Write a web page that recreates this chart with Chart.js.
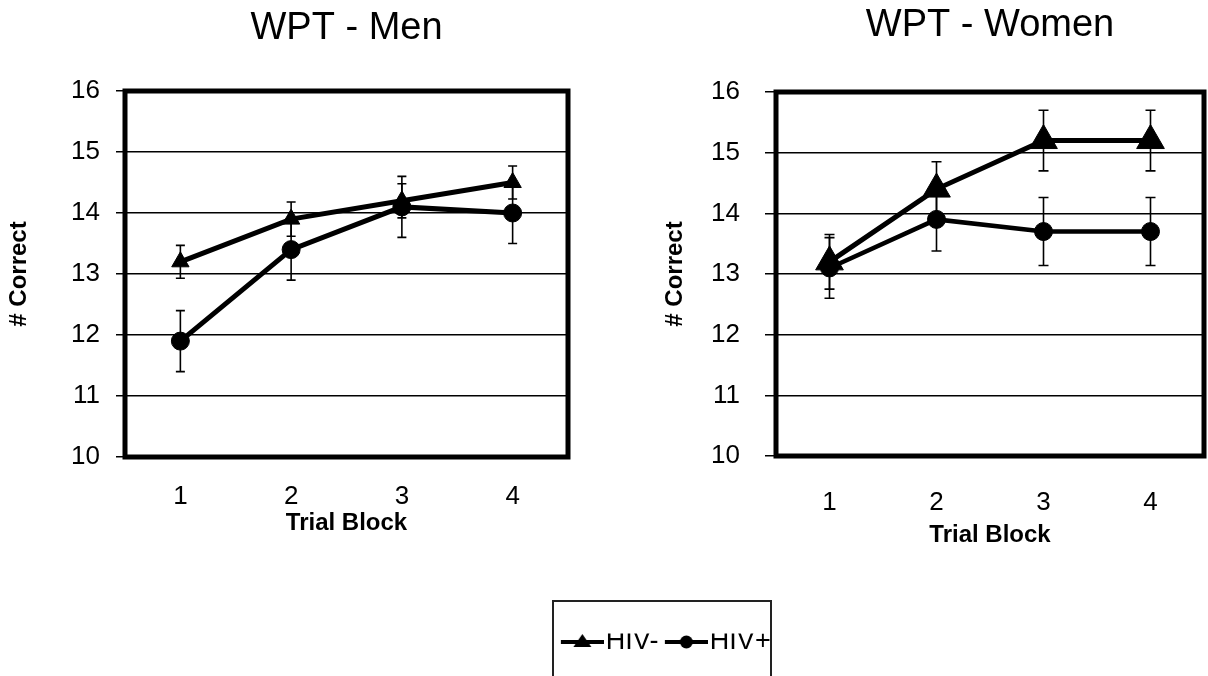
<!DOCTYPE html>
<html><head><meta charset="utf-8">
<script src="https://cdn.jsdelivr.net/npm/chart.js@4.4.1/dist/chart.umd.min.js"></script>
<style>
html,body{margin:0;padding:0;background:#fff;width:1208px;height:676px;overflow:hidden;}
.box{position:absolute;}
#c1{left:0;top:0;width:604px;height:600px;}
#c2{left:604px;top:0;width:640px;height:600px;}
#lgframe{left:552px;top:600px;width:220px;height:100px;border:2px solid #222;box-sizing:border-box;}
#lg{left:500px;top:600px;width:320px;height:76px;}
</style></head><body>
<div class="box" id="c1"><canvas id="men"></canvas></div>
<div class="box" id="c2"><canvas id="women"></canvas></div>
<div class="box" id="lgframe"></div>
<div class="box" id="lg"><canvas id="legend"></canvas></div>
<script>
// ---- data ----
const trialBlocks = ['1', '2', '3', '4'];
const seriesNames = ['HIV-', 'HIV+'];
const panelTitles = ['WPT - Men', 'WPT - Women'];
const xAxisTitle = 'Trial Block';
const yAxisTitle = '# Correct';
const yMin = 10, yMax = 16, yStep = 1;

const menHivNeg    = [13.2, 13.9, 14.2, 14.5];
const menHivNegErr = [0.27, 0.28, 0.28, 0.27];
const menHivPos    = [11.9, 13.4, 14.1, 14.0];
const menHivPosErr = [0.5, 0.5, 0.5, 0.5];

const womenHivNeg    = [13.2, 14.4, 15.2, 15.2];
const womenHivNegErr = [0.45, 0.45, 0.5, 0.5];
const womenHivPos    = [13.1, 13.9, 13.7, 13.7];
const womenHivPosErr = [0.5, 0.52, 0.56, 0.56];

const FONT = "'Liberation Sans', Arial, sans-serif";

// ---- plugins ----
const framePlugin = {
  id: 'frame',
  beforeDatasetsDraw(chart, args, opts) {
    const {ctx, chartArea: {left, top, right, bottom}} = chart;
    ctx.save();
    ctx.strokeStyle = '#000';
    ctx.lineWidth = opts.width;
    ctx.strokeRect(left, top, right - left, bottom - top);
    ctx.restore();
  }
};
const errorBarPlugin = {
  id: 'errorBars',
  beforeDatasetsDraw(chart, args, opts) {
    const {ctx, scales: {x, y}} = chart;
    ctx.save();
    ctx.strokeStyle = '#000';
    ctx.lineWidth = opts.width;
    chart.data.datasets.forEach(ds => {
      if (!ds.errors) return;
      ds.data.forEach((v, i) => {
        const px = x.getPixelForValue(i);
        const yt = y.getPixelForValue(v + ds.errors[i]);
        const yb = y.getPixelForValue(v - ds.errors[i]);
        ctx.beginPath();
        ctx.moveTo(px, yt); ctx.lineTo(px, yb);
        ctx.moveTo(px - opts.cap, yt); ctx.lineTo(px + opts.cap, yt);
        ctx.moveTo(px - opts.cap, yb); ctx.lineTo(px + opts.cap, yb);
        ctx.stroke();
      });
    });
    ctx.restore();
  }
};

function makePanel(id, title, neg, negErr, pos, posErr, L) {
  return new Chart(document.getElementById(id), {
    type: 'line',
    data: {
      labels: trialBlocks,
      datasets: [
        {label: seriesNames[0], data: neg, errors: negErr, borderColor: '#000', backgroundColor: '#000',
         borderWidth: L.lineW, pointStyle: 'triangle', pointRadius: L.triR, pointBorderWidth: 1, tension: 0},
        {label: seriesNames[1], data: pos, errors: posErr, borderColor: '#000', backgroundColor: '#000',
         borderWidth: L.lineW2, pointStyle: 'circle', pointRadius: L.circR, pointBorderWidth: 1, tension: 0}
      ]
    },
    options: {
      responsive: true, maintainAspectRatio: false, animation: false,
      layout: {padding: L.pad},
      plugins: {
        legend: {display: false},
        tooltip: {enabled: false},
        title: {display: true, text: title, fullSize: false, color: '#000',
                font: {family: FONT, size: 38, weight: 'normal'}, padding: L.titlePad},
        frame: {width: 5},
        errorBars: {width: 1.6, cap: L.cap}
      },
      scales: {
        x: {
          offset: true,
          grid: {display: false, drawTicks: false},
          border: {display: false},
          ticks: {color: '#000', font: {family: FONT, size: 26}, padding: L.xTickPad},
          title: {display: true, text: xAxisTitle, color: '#000',
                  font: {family: FONT, size: 24, weight: 'bold'}, padding: {top: 0, bottom: 0}},
          afterFit: s => { s.height = L.xH; }
        },
        y: {
          min: yMin, max: yMax,
          ticks: {stepSize: yStep, color: '#000', font: {family: FONT, size: 26}, padding: L.yTickPad},
          grid: {color: '#000', lineWidth: 1.5, tickLength: L.tickLen, drawTicks: true},
          border: {display: false},
          title: {display: true, text: yAxisTitle, color: '#000',
                  font: {family: FONT, size: 24, weight: 'bold'}, padding: {top: L.yTitlePad, bottom: 0}},
          afterFit: s => { s.width = L.yW; }
        }
      }
    },
    plugins: [framePlugin, errorBarPlugin]
  });
}

makePanel('men', panelTitles[0], menHivNeg, menHivNegErr, menHivPos, menHivPosErr, {
  pad: {left: 0, right: 36, top: 0, bottom: 62},
  titlePad: {top: 6, bottom: 39.4},
  yW: 125, tickLen: 9, yTickPad: 16, yTitlePad: 5,
  xH: 81, xTickPad: 24,
  lineW: 5, lineW2: 5, triR: 10, circR: 9, cap: 4.5
});
makePanel('women', panelTitles[1], womenHivNeg, womenHivNegErr, womenHivPos, womenHivPosErr, {
  pad: {left: 0, right: 40, top: 0, bottom: 50},
  titlePad: {top: 3, bottom: 43.4},
  yW: 172, tickLen: 11, yTickPad: 25, yTitlePad: 57,
  xH: 94, xTickPad: 31,
  lineW: 5, lineW2: 4.5, triR: 16, circR: 9, cap: 5
});

// ---- legend ----
function legendIcon(style) {
  const boxW = 43, e = 11.5;
  const c = document.createElement('canvas');
  c.width = boxW + 2 * e; c.height = 24;
  const g = c.getContext('2d');
  g.fillStyle = '#000'; g.strokeStyle = '#000'; g.lineWidth = 4;
  g.beginPath(); g.moveTo(2 * e, 12); g.lineTo(2 * e + boxW, 12); g.stroke();
  const cx = 2 * e + boxW / 2;
  g.beginPath();
  if (style === 'triangle') {
    g.moveTo(cx, 4); g.lineTo(cx + 9, 17); g.lineTo(cx - 9, 17); g.closePath();
  } else {
    g.arc(cx, 12, 6.5, 0, Math.PI * 2);
  }
  g.fill();
  return c;
}
const legendIcons = [legendIcon('triangle'), legendIcon('circle')];

new Chart(document.getElementById('legend'), {
  type: 'line',
  data: {labels: [], datasets: seriesNames.map(n => ({label: n, data: []}))},
  options: {
    responsive: true, maintainAspectRatio: false, animation: false,
    layout: {padding: {top: 33.5}},
    scales: {x: {display: false}, y: {display: false}},
    plugins: {
      tooltip: {enabled: false},
      legend: {
        display: true, position: 'top', onClick: null,
        labels: {
          usePointStyle: true, pointStyleWidth: 43, padding: -5,
          color: '#000', font: {family: FONT, size: 27},
          generateLabels: () => seriesNames.map((n, i) => ({
            text: n, pointStyle: legendIcons[i], fillStyle: '#000', strokeStyle: '#000',
            lineWidth: 0, hidden: false, datasetIndex: i, fontColor: '#000'
          }))
        }
      }
    }
  }
});
</script>
</body></html>
